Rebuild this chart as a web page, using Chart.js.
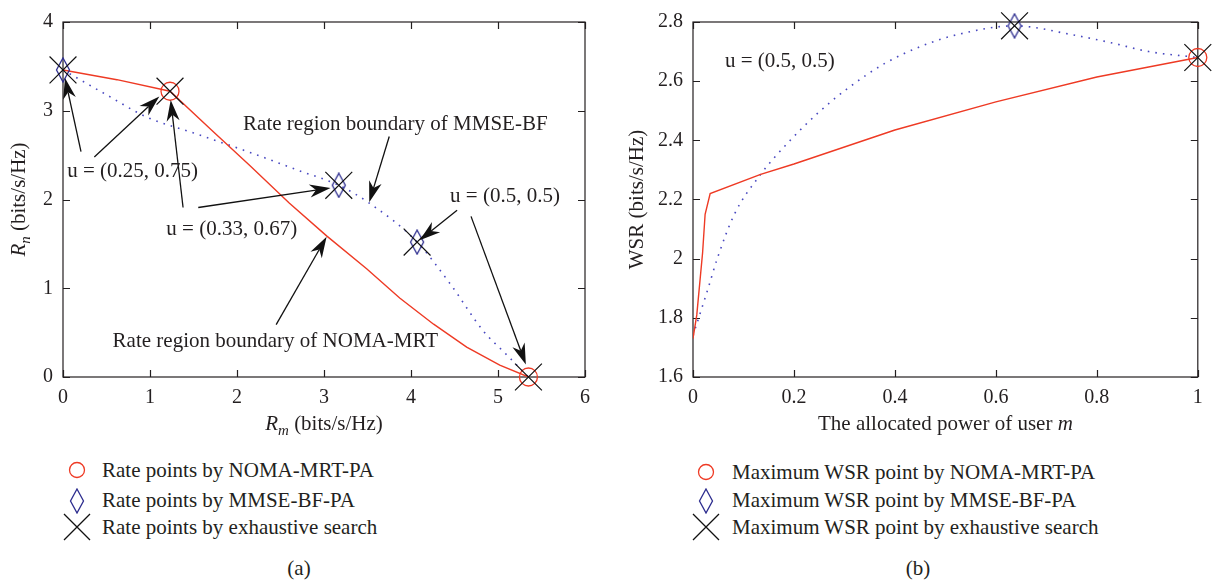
<!DOCTYPE html>
<html>
<head>
<meta charset="utf-8">
<script src="https://cdn.jsdelivr.net/npm/chart.js@4.4.1/dist/chart.umd.min.js"></script>
<style>
  body { margin: 0; background: #fff; width: 1218px; height: 584px; position: relative; overflow: hidden;
         font-family: "Liberation Serif", "DejaVu Serif", serif; color: #231f20; }
  canvas { position: absolute; top: 0; }
  #chartA { left: 0; }
  #chartB { left: 609px; }
  .row { position: absolute; font-size: 21px; line-height: 22px; white-space: nowrap; }
  .mk { position: absolute; }
  .cap { position: absolute; font-size: 21px; line-height: 22px; transform: translateX(-50%); }
</style>
</head>
<body>
<canvas id="chartA" width="609" height="440"></canvas>
<canvas id="chartB" width="609" height="440"></canvas>

<svg class="mk" style="left:67px;top:460px" width="20" height="20"><circle cx="10" cy="10" r="7.5" fill="none" stroke="#ee3a24" stroke-width="1.3"/></svg>
<div class="row" style="left:102px;top:459px">Rate points by NOMA-MRT-PA</div>
<svg class="mk" style="left:67px;top:488px" width="20" height="26"><path d="M10 1 L16.5 13 L10 25 L3.5 13 Z" fill="none" stroke="#2d2d8f" stroke-width="1.3"/></svg>
<div class="row" style="left:102px;top:489px">Rate points by MMSE-BF-PA</div>
<svg class="mk" style="left:63px;top:513px" width="28" height="28"><path d="M1 1 L27 27 M27 1 L1 27" stroke="#111" stroke-width="1.3"/></svg>
<div class="row" style="left:102px;top:516px">Rate points by exhaustive search</div>
<div class="cap" style="left:299px;top:557px">(a)</div>

<svg class="mk" style="left:696px;top:462px" width="20" height="20"><circle cx="10" cy="10" r="7.5" fill="none" stroke="#ee3a24" stroke-width="1.3"/></svg>
<div class="row" style="left:732px;top:461px">Maximum WSR point by NOMA-MRT-PA</div>
<svg class="mk" style="left:696px;top:488px" width="20" height="26"><path d="M10 1 L16.5 13 L10 25 L3.5 13 Z" fill="none" stroke="#2d2d8f" stroke-width="1.3"/></svg>
<div class="row" style="left:732px;top:489px">Maximum WSR point by MMSE-BF-PA</div>
<svg class="mk" style="left:692px;top:513px" width="28" height="28"><path d="M1 1 L27 27 M27 1 L1 27" stroke="#111" stroke-width="1.3"/></svg>
<div class="row" style="left:732px;top:516px">Maximum WSR point by exhaustive search</div>
<div class="cap" style="left:918px;top:557px">(b)</div>

<script>
// ---- (a) rate region ----
var rateXTicks = [0, 1, 2, 3, 4, 5, 6];
var rateYTicks = [0, 1, 2, 3, 4];
var rateNomaX = [0, 0.62, 1.23, 1.7, 2.15, 2.6, 3.03, 3.49, 3.87, 4.26, 4.64, 5.02, 5.35];
var rateNomaY = [3.46, 3.35, 3.22, 2.79, 2.38, 1.96, 1.59, 1.22, 0.89, 0.595, 0.336, 0.133, 0];
var rateMmseX = [0, 0.5, 0.96, 1.5, 2.15, 2.7, 3.17, 3.52, 4.07, 4.45, 4.83, 5.1, 5.35];
var rateMmseY = [3.46, 3.18, 2.93, 2.75, 2.53, 2.33, 2.16, 1.96, 1.52, 1.05, 0.52, 0.25, 0];
var rateCircleX = [1.23, 5.35];
var rateCircleY = [3.22, 0];
var rateDiamondX = [0, 3.17, 4.07];
var rateDiamondY = [3.46, 2.16, 1.52];
var rateCrossX = [0, 1.23, 3.17, 4.07, 5.35];
var rateCrossY = [3.46, 3.22, 2.16, 1.52, 0];

// ---- (b) weighted sum rate ----
var wsrXTicks = [0, 0.2, 0.4, 0.6, 0.8, 1];
var wsrXLabels = ['0', '0.2', '0.4', '0.6', '0.8', '1'];
var wsrYTicks = [1.6, 1.8, 2.0, 2.2, 2.4, 2.6, 2.8];
var wsrYLabels = ['1.6', '1.8', '2', '2.2', '2.4', '2.6', '2.8'];
var wsrNomaX = [0, 0.0075, 0.019, 0.024, 0.034, 0.134, 0.2, 0.4, 0.6, 0.8, 1];
var wsrNomaY = [1.73, 1.81, 2.02, 2.15, 2.22, 2.285, 2.32, 2.435, 2.53, 2.614, 2.68];
var wsrMmseX = [0, 0.03, 0.048, 0.082, 0.134, 0.187, 0.246, 0.306, 0.38, 0.455, 0.53, 0.637, 0.754, 0.828, 0.903, 1];
var wsrMmseY = [1.74, 1.9, 2.0, 2.15, 2.285, 2.39, 2.49, 2.575, 2.66, 2.72, 2.76, 2.787, 2.756, 2.73, 2.70, 2.68];
var wsrCircleX = [1];
var wsrCircleY = [2.68];
var wsrDiamondX = [0.637];
var wsrDiamondY = [2.787];
var wsrCrossX = [0.637, 1];
var wsrCrossY = [2.787, 2.68];

var FONT = '"Liberation Serif", "DejaVu Serif", serif';
var INK = '#231f20';
var RED = '#ee3a24';
var BLUE = '#4848c0';

Chart.defaults.font.family = FONT;
Chart.defaults.color = INK;

function pts(xs, ys) {
    return xs.map(function (x, i) { return { x: x, y: ys[i] }; });
}

function diamondImg() {
    var c = document.createElement('canvas');
    c.width = 16; c.height = 26;
    var g = c.getContext('2d');
    g.strokeStyle = '#2d2d8f';
    g.lineWidth = 1.3;
    g.beginPath();
    g.moveTo(8, 1); g.lineTo(14.5, 13); g.lineTo(8, 25); g.lineTo(1.5, 13); g.closePath();
    g.stroke();
    return c;
}

function drawRich(ctx, parts, x, y, size) {
    var w = 0;
    parts.forEach(function (p) {
        p.px = p.sub ? Math.round(size * 0.72) : size;
        ctx.font = (p.italic ? 'italic ' : '') + p.px + 'px ' + FONT;
        p.w = ctx.measureText(p.t).width;
        w += p.w;
    });
    var cx = x - w / 2;
    ctx.textAlign = 'left';
    ctx.textBaseline = 'middle';
    parts.forEach(function (p) {
        ctx.font = (p.italic ? 'italic ' : '') + p.px + 'px ' + FONT;
        ctx.fillText(p.t, cx, y + (p.sub ? size * 0.32 : 0));
        cx += p.w;
    });
}

function drawArrow(ctx, x1, y1, x2, y2) {
    var a = Math.atan2(y2 - y1, x2 - x1), L = 21, W = 6.5;
    ctx.beginPath();
    ctx.moveTo(x1, y1);
    ctx.lineTo(x2 - Math.cos(a) * L * 0.7, y2 - Math.sin(a) * L * 0.7);
    ctx.stroke();
    ctx.save();
    ctx.translate(x2, y2);
    ctx.rotate(a);
    ctx.beginPath();
    ctx.moveTo(0, 0);
    ctx.lineTo(-L, -W);
    ctx.lineTo(-L * 0.7, 0);
    ctx.lineTo(-L, W);
    ctx.closePath();
    ctx.fill();
    ctx.restore();
}

// frame, inward ticks, axis titles, notes and arrows
function decoPlugin(deco) {
    return {
        id: 'deco',
        beforeDatasetsDraw: function (chart) {
            var ctx = chart.ctx, a = chart.chartArea, xs = chart.scales.x, ys = chart.scales.y;
            ctx.save();
            ctx.strokeStyle = INK;
            ctx.lineWidth = 1.2;
            ctx.strokeRect(a.left, a.top, a.right - a.left, a.bottom - a.top);
            ctx.beginPath();
            xs.ticks.forEach(function (t) {
                var px = Math.round(xs.getPixelForValue(t.value)) + 0.5;
                ctx.moveTo(px, a.bottom); ctx.lineTo(px, a.bottom - 7);
                ctx.moveTo(px, a.top); ctx.lineTo(px, a.top + 7);
            });
            ys.ticks.forEach(function (t) {
                var py = Math.round(ys.getPixelForValue(t.value)) + 0.5;
                ctx.moveTo(a.left, py); ctx.lineTo(a.left + 7, py);
                ctx.moveTo(a.right, py); ctx.lineTo(a.right - 7, py);
            });
            ctx.stroke();
            ctx.restore();
        },
        afterDatasetsDraw: function (chart) {
            var ctx = chart.ctx, a = chart.chartArea, xs = chart.scales.x, ys = chart.scales.y;
            ctx.save();
            ctx.fillStyle = INK;
            drawRich(ctx, deco.xTitle, (a.left + a.right) / 2, 424, 21);
            ctx.save();
            ctx.translate(deco.yTitleX, (a.top + a.bottom) / 2);
            ctx.rotate(-Math.PI / 2);
            drawRich(ctx, deco.yTitle, 0, 0, 21);
            ctx.restore();
            ctx.strokeStyle = '#111';
            ctx.fillStyle = '#111';
            ctx.lineWidth = 1.3;
            deco.arrows.forEach(function (r) {
                drawArrow(ctx, xs.getPixelForValue(r[0]), ys.getPixelForValue(r[1]),
                    xs.getPixelForValue(r[2]), ys.getPixelForValue(r[3]));
            });
            ctx.fillStyle = INK;
            deco.notes.forEach(function (n) {
                drawRich(ctx, [{ t: n.t }], xs.getPixelForValue(n.x), ys.getPixelForValue(n.y), 21);
            });
            ctx.restore();
        }
    };
}

function makeChart(id, d) {
    var diamond = diamondImg();
    var tickFont = { family: FONT, size: 20 };
    return new Chart(document.getElementById(id).getContext('2d'), {
        type: 'scatter',
        data: {
            datasets: [
                { data: pts(d.crossX, d.crossY), pointStyle: 'crossRot', pointRadius: 19, borderColor: '#111',
                  borderWidth: 1.2, backgroundColor: 'transparent', clip: false, order: 1 },
                { data: pts(d.diamondX, d.diamondY), pointStyle: diamond, pointRadius: 10, clip: false, order: 2 },
                { data: pts(d.circleX, d.circleY), pointStyle: 'circle', pointRadius: 9, borderColor: RED,
                  borderWidth: 1.3, backgroundColor: 'transparent', clip: false, order: 3 },
                { data: pts(d.nomaX, d.nomaY), showLine: true, pointRadius: 0, borderColor: RED, borderWidth: 1.4,
                  tension: 0, order: 4 },
                { data: pts(d.mmseX, d.mmseY), showLine: true, pointRadius: 0, borderColor: BLUE, borderWidth: 1.6,
                  borderDash: [1.6, 6], cubicInterpolationMode: 'monotone', order: 5 }
            ]
        },
        options: {
            responsive: false,
            animation: false,
            events: [],
            layout: { padding: { top: 16, right: d.padRight, left: 0, bottom: 0 } },
            plugins: { legend: { display: false }, tooltip: { enabled: false } },
            scales: {
                x: {
                    type: 'linear', min: d.xTicks[0], max: d.xTicks[d.xTicks.length - 1],
                    afterBuildTicks: function (s) { s.ticks = d.xTicks.map(function (v) { return { value: v }; }); },
                    afterFit: function (s) { s.height = 63; },
                    grid: { display: false, drawTicks: false }, border: { display: false },
                    ticks: { font: tickFont, color: INK, padding: 9, maxRotation: 0, autoSkip: false,
                             callback: function (v, i) { return d.xLabels[i]; } }
                },
                y: {
                    type: 'linear', min: d.yTicks[0], max: d.yTicks[d.yTicks.length - 1],
                    afterBuildTicks: function (s) { s.ticks = d.yTicks.map(function (v) { return { value: v }; }); },
                    afterFit: function (s) { s.width = d.yWidth; },
                    grid: { display: false, drawTicks: false }, border: { display: false },
                    ticks: { font: tickFont, color: INK, padding: 10, autoSkip: false,
                             callback: function (v, i) { return d.yLabels[i]; } }
                }
            }
        },
        plugins: [decoPlugin(d.deco)]
    });
}

makeChart('chartA', {
    xTicks: rateXTicks, xLabels: rateXTicks.map(String),
    yTicks: rateYTicks, yLabels: rateYTicks.map(String),
    nomaX: rateNomaX, nomaY: rateNomaY, mmseX: rateMmseX, mmseY: rateMmseY,
    circleX: rateCircleX, circleY: rateCircleY, diamondX: rateDiamondX, diamondY: rateDiamondY,
    crossX: rateCrossX, crossY: rateCrossY,
    yWidth: 63, padRight: 24,
    deco: {
        xTitle: [{ t: 'R', italic: true }, { t: 'm', italic: true, sub: true }, { t: ' (bits/s/Hz)' }],
        yTitle: [{ t: 'R', italic: true }, { t: 'n', italic: true, sub: true }, { t: ' (bits/s/Hz)' }],
        yTitleX: 19,
        notes: [
            { t: 'u = (0.25, 0.75)', x: 0.8, y: 2.32 },
            { t: 'u = (0.33, 0.67)', x: 1.94, y: 1.66 },
            { t: 'Rate region boundary of MMSE-BF', x: 3.82, y: 2.85 },
            { t: 'u = (0.5, 0.5)', x: 5.08, y: 2.03 },
            { t: 'Rate region boundary of NOMA-MRT', x: 2.44, y: 0.40 }
        ],
        arrows: [
            [0.207, 2.54, 0.023, 3.37],
            [0.36, 2.48, 1.107, 3.16],
            [1.38, 1.91, 1.238, 3.12],
            [1.555, 1.91, 3.075, 2.13],
            [3.75, 2.71, 3.52, 1.97],
            [4.53, 1.88, 4.10, 1.54],
            [4.69, 1.81, 5.32, 0.14],
            [2.45, 0.59, 3.03, 1.58]
        ]
    }
});

makeChart('chartB', {
    xTicks: wsrXTicks, xLabels: wsrXLabels,
    yTicks: wsrYTicks, yLabels: wsrYLabels,
    nomaX: wsrNomaX, nomaY: wsrNomaY, mmseX: wsrMmseX, mmseY: wsrMmseY,
    circleX: wsrCircleX, circleY: wsrCircleY, diamondX: wsrDiamondX, diamondY: wsrDiamondY,
    crossX: wsrCrossX, crossY: wsrCrossY,
    yWidth: 84, padRight: 11,
    deco: {
        xTitle: [{ t: 'The allocated power of user ' }, { t: 'm', italic: true }],
        yTitle: [{ t: 'WSR (bits/s/Hz)' }],
        yTitleX: 28,
        notes: [
            { t: 'u = (0.5, 0.5)', x: 0.172, y: 2.668 }
        ],
        arrows: []
    }
});
</script>
</body>
</html>
